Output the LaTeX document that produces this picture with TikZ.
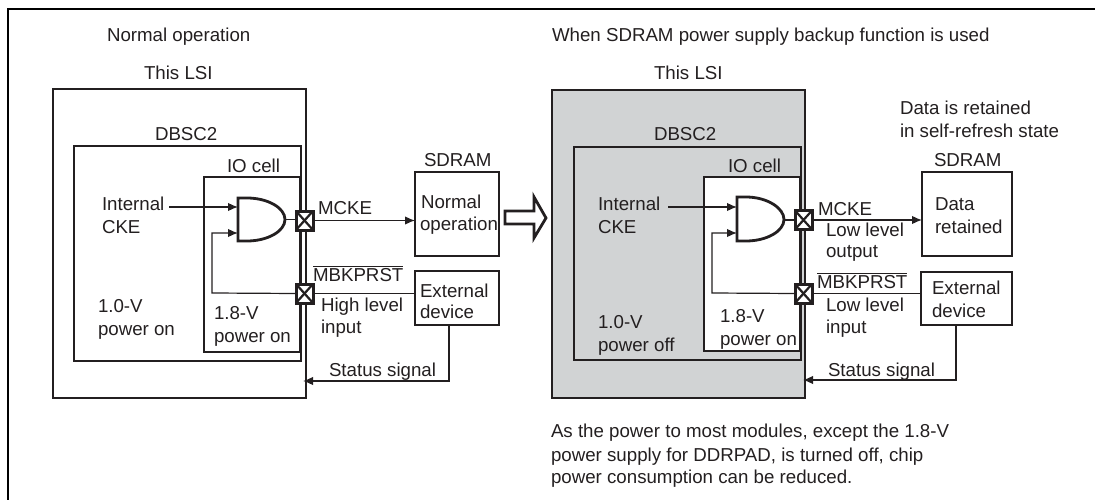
\documentclass[tikz,border=0pt]{standalone}
\usepackage{fontspec}
\setmainfont{Liberation Sans}
\usetikzlibrary{arrows.meta}
\definecolor{ink}{HTML}{231F20}
\definecolor{shade}{HTML}{D1D3D4}
\tikzset{
  x=1pt,y=-1pt,
  lab/.style={anchor=base west,inner sep=0pt,outer sep=0pt,text=ink,font=\fontsize{18.7}{23}\selectfont},
  boxn/.style={draw=ink,line width=2.8pt,anchor=north west,inner sep=0pt,outer sep=0pt},
  padn/.style={draw=ink,line width=3pt,fill=white,minimum width=17pt,minimum height=19pt,inner sep=0pt,outer sep=0pt},
  wire/.style={draw=ink,line width=1.2pt},
  arr/.style={wire,-{Latex[length=10pt,width=8.5pt]}},
  gaten/.style={draw=ink,line width=2.8pt,fill=white,line join=miter},
  crossn/.style={draw=ink,line width=2.2pt},
}
\begin{document}
\begin{tikzpicture}
\useasboundingbox (0,0) rectangle (1095,500);
\draw[black,line width=2.8pt] (8,500) -- (8,9) -- (1095,9);

% left side
\node[boxn,minimum width=253pt,minimum height=309pt] (lsiA) at (53,89) {};
\node[boxn,minimum width=227pt,minimum height=215pt] (dbA) at (74,146) {};
\node[boxn,minimum width=96pt,minimum height=175pt] (ioA) at (204,177) {};
\node[boxn,minimum width=84pt,minimum height=84pt] (sdA) at (415,172) {};
\node[boxn,minimum width=84pt,minimum height=54pt] (exA) at (415,271) {};

\draw[gaten] (238,198) -- (247,198) .. controls (268,198) and (285,208) .. (285,219.5) .. controls (285,231) and (268,241) .. (247,241) -- (238,241) -- cycle;
\coordinate (ga1) at (238,207);
\coordinate (ga2) at (238,233);
\coordinate (gaO) at (285,219.5);
\coordinate (gaT) at (212,233);
\coordinate (gaB) at (212,293);
\coordinate (stA) at (303,381);
\coordinate (exAs) at (449,325);
\coordinate (stAc) at (449,381);
\coordinate (inA) at (169,207);

\node[padn] (p1A) at (304.5,220.5) {};
\node[padn] (p2A) at (304.5,293.5) {};
\draw[crossn] (p1A.north west) -- (p1A.south east) (p1A.north east) -- (p1A.south west);
\draw[crossn] (p2A.north west) -- (p2A.south east) (p2A.north east) -- (p2A.south west);

\draw[arr] (inA) -- (ga1);
\draw[wire] (gaO) -- (p1A.west |- gaO);
\draw[arr] (p2A.west) -- (gaB) -- (gaT) -- (ga2);
\draw[arr] (p1A.east) -- (sdA.west |- p1A.east);
\draw[wire] (p2A.east) -- (exA.west |- p2A.east);
\draw[arr] (exAs) -- (stAc) -- (stA);

\node[lab] (t1) at (107,42) {Normal operation};
\node[lab] (t2) at (144,80) {This LSI};
\node[lab] (t3) at (155,141) {DBSC2};
\node[lab] (t4) at (227,172) {IO cell};
\node[lab] (t5) at (102,210) {Internal};
\node[lab] (t6) at (102,233) {CKE};
\node[lab] (t7) at (98,312) {1.0-V};
\node[lab] (t8) at (98,335) {power on};
\node[lab] (t9) at (214,319) {1.8-V};
\node[lab] (t10) at (214,342) {power on};
\node[lab] (t11) at (318,214) {MCKE};
\node[lab] (t12) at (313,281) {$\overline{\hbox{MBKPRST}}$};
\node[lab] (t13) at (321,311) {High level};
\node[lab] (t14) at (321,333) {input};
\node[lab] (t15) at (424,167) {SDRAM};
\node[lab] (t16) at (421,208) {Normal};
\node[lab] (t17) at (420,230) {operation};
\node[lab] (t18) at (420,297) {External};
\node[lab] (t19) at (420,318) {device};
\node[lab] (t20) at (329,376) {Status signal};

% big arrow
\draw[draw=ink,line width=2.8pt,fill=white,line join=miter] (505,211) -- (534,211) -- (534,197) -- (546,218) -- (534,238) -- (534,224) -- (505,224) -- cycle;

% right side
\node[boxn,fill=shade,minimum width=253pt,minimum height=308pt] (lsiB) at (552,90) {};
\node[boxn,minimum width=227pt,minimum height=213pt] (dbB) at (574,147) {};
\node[boxn,fill=white,minimum width=96pt,minimum height=174pt] (ioB) at (704,177) {};
\node[boxn,minimum width=90pt,minimum height=84pt] (sdB) at (922,172) {};
\node[boxn,minimum width=91pt,minimum height=53pt] (exB) at (921,272) {};

\draw[gaten] (737,197) -- (746,197) .. controls (767,197) and (784,208) .. (784,219.5) .. controls (784,231) and (767,241) .. (746,241) -- (737,241) -- cycle;
\coordinate (gb1) at (737,207);
\coordinate (gb2) at (737,233);
\coordinate (gbO) at (784,220);
\coordinate (gbT) at (712,233);
\coordinate (gbB) at (712,293);
\coordinate (stB) at (803,380);
\coordinate (exBs) at (956,325);
\coordinate (stBc) at (956,380);
\coordinate (inB) at (668,207);

\node[padn] (p1B) at (803.5,220) {};
\node[padn] (p2B) at (803.5,293.5) {};
\draw[crossn] (p1B.north west) -- (p1B.south east) (p1B.north east) -- (p1B.south west);
\draw[crossn] (p2B.north west) -- (p2B.south east) (p2B.north east) -- (p2B.south west);

\draw[arr] (inB) -- (gb1);
\draw[wire] (gbO) -- (p1B.west |- gbO);
\draw[arr] (p2B.west) -- (gbB) -- (gbT) -- (gb2);
\draw[arr] (p1B.east) -- (sdB.west |- p1B.east);
\draw[wire] (p2B.east) -- (exB.west |- p2B.east);
\draw[arr] (exBs) -- (stBc) -- (stB);

\node[lab] (u1) at (552,42) {When SDRAM power supply backup function is used};
\node[lab] (u2) at (654,80) {This LSI};
\node[lab] (u3) at (654,141) {DBSC2};
\node[lab] (u4) at (728,172) {IO cell};
\node[lab] (u5) at (598,210) {Internal};
\node[lab] (u6) at (598,233) {CKE};
\node[lab] (u7) at (598,328) {1.0-V};
\node[lab] (u8) at (598,351) {power off};
\node[lab] (u9) at (720,322) {1.8-V};
\node[lab] (u10) at (720,345) {power on};
\node[lab] (u11) at (818,215) {MCKE};
\node[lab] (u12) at (817,288) {$\overline{\hbox{MBKPRST}}$};
\node[lab] (u13) at (826,236) {Low level};
\node[lab] (u14) at (826,257) {output};
\node[lab] (u15) at (826,311) {Low level};
\node[lab] (u16) at (826,333) {input};
\node[lab] (u17) at (934,167) {SDRAM};
\node[lab] (u18) at (935,210) {Data};
\node[lab] (u19) at (935,233) {retained};
\node[lab] (u20) at (932,294) {External};
\node[lab] (u21) at (932,317) {device};
\node[lab] (u22) at (828,376) {Status signal};
\node[lab] (u23) at (900,115) {Data is retained};
\node[lab] (u24) at (900,138) {in self-refresh state};
\node[lab] (u25) at (551,437) {As the power to most modules, except the 1.8-V};
\node[lab] (u26) at (551,461) {power supply for DDRPAD, is turned off, chip};
\node[lab] (u27) at (551,483) {power consumption can be reduced.};
\end{tikzpicture}
\end{document}
